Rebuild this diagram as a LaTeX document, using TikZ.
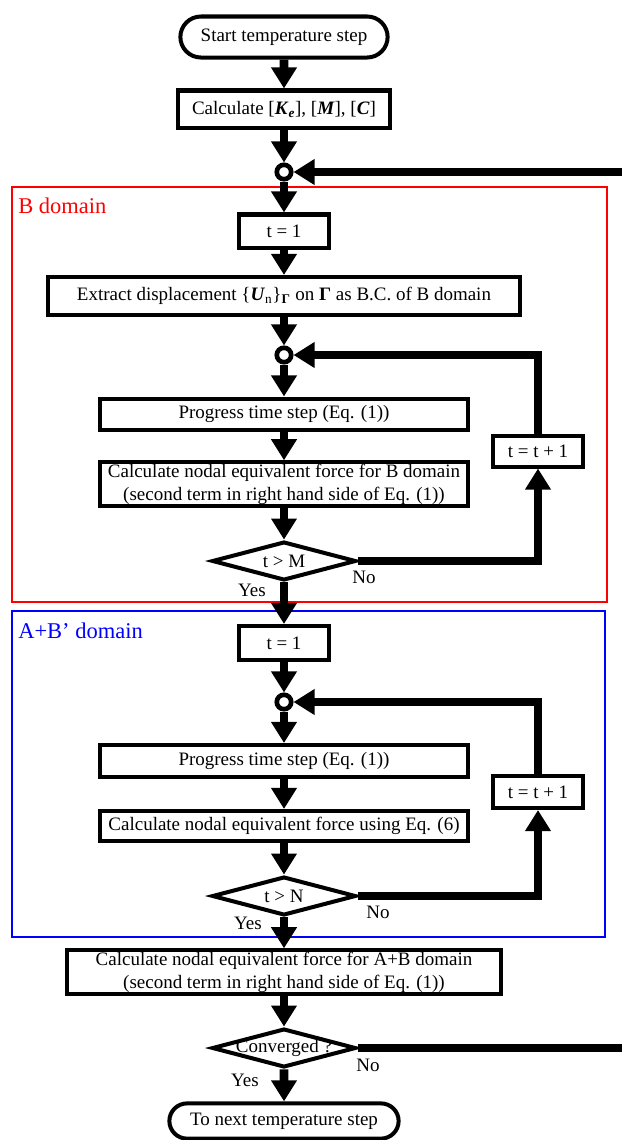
\documentclass[tikz,border=0pt]{standalone}
\usepackage{fontspec}
\setmainfont{Liberation Serif}
\usetikzlibrary{arrows.meta, positioning, shapes.geometric, shapes.misc}

\newcommand{\bv}[1]{\textbf{\textit{#1}}}

\begin{document}
\begin{tikzpicture}[
x=0.025cm, y=-0.025cm,
font=\fontsize{13.5}{16.4}\selectfont,
box/.style={draw, line width=2.85pt, rectangle, align=center, inner sep=1pt},
term/.style={draw, line width=2.85pt, rounded rectangle, inner sep=1pt},
junc/.style={circle, draw, line width=3.3pt, minimum size=0.36cm, inner sep=0pt, fill=white},
decision/.style={diamond, draw, line width=2.85pt, minimum width=3.6cm, minimum height=0.97cm, inner sep=0pt, label={center:#1}},
flow/.style={line width=6.2pt, -{Triangle[length=15pt, width=17.5pt]}},
frame/.style={draw, line width=1.4pt},
dlabel/.style={anchor=west, inner sep=0pt, font=\fontsize{16}{19}\selectfont}
]
\useasboundingbox (0,0) rectangle (621,1140);

% domain frames
\draw[frame, red] (12,187) rectangle (607,602);
\draw[frame, blue] (12,611) rectangle (605,937);
\node[dlabel, text=red] (labB) at (18,206) {B domain};
\node[dlabel, text=blue] (labA) at (18,631) {A+B’ domain};

% outer loop
\node[term, minimum width=5.25cm, minimum height=1.025cm] (start) at (284,37) {Start temperature step};
\node[box, minimum width=5.275cm, minimum height=0.925cm] (calcK) at (284,109) {Calculate [\bv{K}\textsubscript{\bv{e}}], [\bv{M}], [\bv{C}]};
\node[junc] (jA) at (284,172) {};

% B domain
\node[box, minimum width=2.25cm, minimum height=0.825cm] (initB) at (284,231) {t = 1};
\node[box, minimum width=11.8cm, minimum height=0.95cm] (extract) at (284,296) {Extract displacement \{\bv{U}\textsubscript{n}\}\textsubscript{\textbf{Γ}} on \textbf{Γ} as B.C. of B domain};
\node[junc] (jB) at (284,355) {};
\node[box, minimum width=9.2cm, minimum height=0.775cm] (stepB) at (284,414) {Progress time step (Eq. (1))};
\node[box, minimum width=9.2cm, minimum height=1.05cm] (forceB) at (284,484) {Calculate nodal equivalent force for B domain\\(second term in right hand side of Eq. (1))};
\node[decision={t > M}] (testM) at (284,561) {};
\node[box, minimum width=2.25cm, minimum height=0.775cm] (incB) at (538,451) {t = t + 1};
\node (noM) at (364,577) {No};
\node (yesM) at (252,590) {Yes};

% A+B' domain
\node[box, minimum width=2.25cm, minimum height=0.85cm] (initA) at (284,643) {t = 1};
\node[junc] (jC) at (284,702) {};
\node[box, minimum width=9.2cm, minimum height=0.8cm] (stepA) at (284,761) {Progress time step (Eq. (1))};
\node[box, minimum width=9.2cm, minimum height=0.75cm] (forceA) at (284,826) {Calculate nodal equivalent force using Eq. (6)};
\node[decision={t > N}] (testN) at (284,896) {};
\node[box, minimum width=2.25cm, minimum height=0.8cm] (incA) at (538,792) {t = t + 1};
\node (noN) at (378,912) {No};
\node (yesN) at (248,923) {Yes};

% convergence check
\node[box, minimum width=10.825cm, minimum height=1.075cm] (forceAB) at (284,972) {Calculate nodal equivalent force for A+B domain\\(second term in right hand side of Eq. (1))};
\node[decision={Converged ?}] (conv) at (284,1048) {};
\node (noC) at (368,1065) {No};
\node (yesC) at (245,1080) {Yes};
\node[term, minimum width=5.8cm, minimum height=0.88cm] (finish) at (284,1121) {To next temperature step};
\coordinate (ret) at (650,1048);

% connectors
\draw[flow] (start) -- (calcK);
\draw[flow] (calcK) -- (jA);
\draw[flow] (jA) -- (initB);
\draw[flow] (initB) -- (extract);
\draw[flow] (extract) -- (jB);
\draw[flow] (jB) -- (stepB);
\draw[flow] (stepB) -- (forceB);
\draw[flow] (forceB) -- (testM.north);
\draw[flow] (testM.east) -| (incB.south);
\draw[flow] (incB.north) |- (jB.east);
\draw[flow] (testM.south) -- (initA);
\draw[flow] (initA) -- (jC);
\draw[flow] (jC) -- (stepA);
\draw[flow] (stepA) -- (forceA);
\draw[flow] (forceA) -- (testN.north);
\draw[flow] (testN.east) -| (incA.south);
\draw[flow] (incA.north) |- (jC.east);
\draw[flow] (testN.south) -- (forceAB);
\draw[flow] (forceAB) -- (conv.north);
\draw[flow] (conv.south) -- (finish);
\draw[flow] (conv.east) -- (ret) |- (jA.east);
\end{tikzpicture}
\end{document}
